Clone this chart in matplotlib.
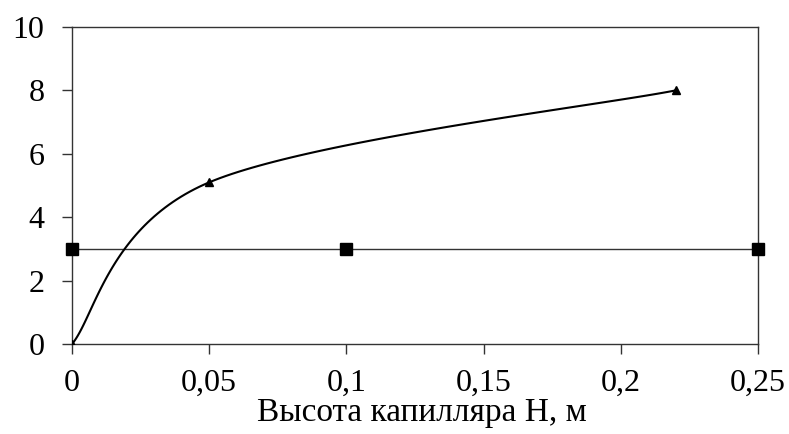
import numpy as np
import matplotlib
matplotlib.use("Agg")
import matplotlib.pyplot as plt

# data
h_tri = [0.0, 0.05, 0.22]
v_tri = [0.0, 5.1, 8.0]
h_sq = [0.0, 0.1, 0.25]
v_sq = [3.0, 3.0, 3.0]

x_ticks = [0, 0.05, 0.1, 0.15, 0.2, 0.25]
x_labels = ["0", "0,05", "0,1", "0,15", "0,2", "0,25"]
y_ticks = [0, 2, 4, 6, 8, 10]


def smooth(xs, ys, n=60):
    # excel-like smoothed line: cubic bezier with catmull-rom control points
    p = np.column_stack([xs, ys])
    out = []
    for i in range(len(p) - 1):
        p_prev = p[i - 1] if i > 0 else p[i]
        p_next = p[i + 2] if i + 2 < len(p) else p[i + 1]
        c1 = p[i] + (p[i + 1] - p_prev) / 6
        c2 = p[i + 1] - (p_next - p[i]) / 6
        t = np.linspace(0, 1, n)[:, None]
        b = ((1 - t) ** 3) * p[i] + 3 * ((1 - t) ** 2) * t * c1 \
            + 3 * (1 - t) * t ** 2 * c2 + t ** 3 * p[i + 1]
        out.append(b)
    out = np.vstack(out)
    return out[:, 0], out[:, 1]


plt.rcParams['font.family'] = ['Liberation Serif', 'DejaVu Serif']

fig = plt.figure(figsize=(7.89, 4.34), dpi=100)
ax = fig.add_axes([0.0913, 0.2074, 0.8694, 0.7304])

sx, sy = smooth(h_tri, v_tri)
ax.plot(sx, sy, color='black', lw=1.5, zorder=3)
ax.plot(h_tri, v_tri, ls='none', marker='^', ms=6, color='black', zorder=4)

ax.plot(h_sq, v_sq, color='#333333', lw=1.0, zorder=2)
ax.plot(h_sq, v_sq, ls='none', marker='s', ms=8, color='black', zorder=4,
        clip_on=False)

ax.set_xlim(0, 0.25)
ax.set_ylim(0, 10)
ax.set_xticks(x_ticks)
ax.set_xticklabels(x_labels)
ax.set_yticks(y_ticks)

for s in ax.spines.values():
    s.set_color('#333333')
    s.set_linewidth(1.0)
ax.tick_params(direction='out', length=7, width=1.0, color='#333333',
               labelsize=23, pad=11)
ax.tick_params(axis='y', pad=13)

ax.set_xlabel("Высота капилляра H, м", fontsize=24, labelpad=0)
ax.xaxis.set_label_coords(0.51, -0.17)

fig.savefig("out.png", dpi=100)
